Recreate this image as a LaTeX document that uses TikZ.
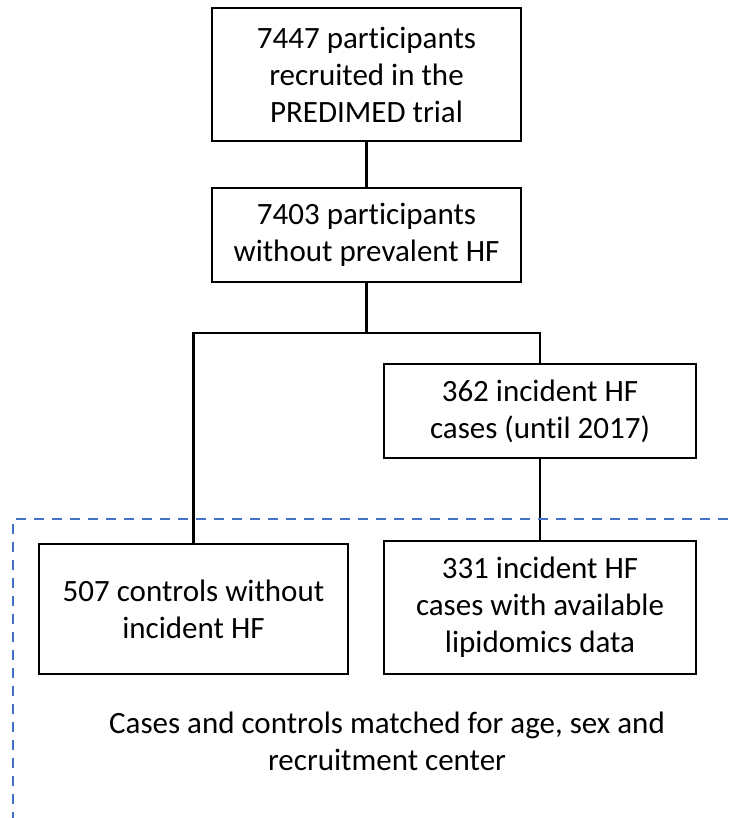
\documentclass[tikz,border=0pt]{standalone}
\usepackage{fontspec}
\setmainfont{Carlito}[Ligatures=NoCommon]
\definecolor{dashblue}{RGB}{68,114,196}
\begin{document}
\begin{tikzpicture}[x=1pt,y=-1pt,
  box/.style={draw=black, line width=2.4pt, align=center, inner sep=0pt,
    font=\fontsize{31}{37}\selectfont},
  conn/.style={draw=black, line width=2.2pt, line join=miter},
  dashline/.style={draw=dashblue, line width=2.5pt, dash pattern=on 10pt off 8pt}]
\useasboundingbox[fill=white] (0,0) rectangle (728,818);
\node[box, minimum width=309pt, minimum height=133pt] (b1) at (366.5,74.5)
  {7447 participants\\recruited in the\\PREDIMED trial};
\node[box, minimum width=309pt, minimum height=94pt] (b2) at (366.5,235)
  {7403 participants\\without prevalent HF};
\node[box, minimum width=312pt, minimum height=94pt] (b4) at (540,411)
  {362 incident HF\\cases (until 2017)};
\node[box, minimum width=309pt, minimum height=130pt] (b5) at (193.5,609)
  {507 controls without\\incident HF};
\node[box, minimum width=312pt, minimum height=133pt] (b6) at (540,607.5)
  {331 incident HF\\cases with available\\lipidomics data};
\coordinate (split) at (366.5,333);
\draw[conn] (b1.south) -- (b2.north);
\draw[conn] (b2.south) -- (split);
\draw[conn] (b5.north) -- (b5.north |- split) -- (b4.north |- split) -- (b4.north);
\draw[conn] (b4.south) -- (b6.north);
\coordinate (dr) at (728,519);
\coordinate (dc) at (13,519);
\coordinate (db) at (13,818);
\draw[dashline] (dr) -- (dc) -- (db);
\node[align=center, inner sep=0pt, font=\fontsize{31}{37}\selectfont] (note) at (387,741)
  {Cases and controls matched for age, sex and\\recruitment center};
\end{tikzpicture}
\end{document}
